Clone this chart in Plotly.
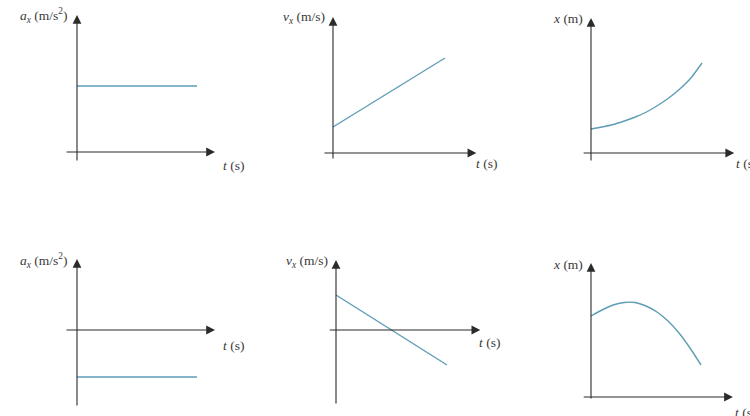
import plotly.graph_objects as go

# ---- data (arbitrary units: t in s, values in panel units) ----
t_line = [0, 10]
t_curve = [0, 1, 2, 3, 4, 5, 6, 7, 8, 9, 10]

ax_up = [6.6, 6.6]                          # constant positive acceleration
vx_up = [2.6, 9.5]                          # increasing velocity
x_up = [2.4, 2.6, 2.85, 3.2, 3.6, 4.1, 4.75, 5.5, 6.4, 7.5, 9.0]  # position, concave up

ax_down = [-4.7, -4.7]                      # constant negative acceleration
vx_down = [3.5, -3.5]                       # decreasing velocity
x_down = [8.1, 8.7, 9.2, 9.45, 9.45, 9.1, 8.5, 7.6, 6.4, 4.9, 3.2]  # position, concave down

y_labels = ["<i>a</i><sub><i>x</i></sub> (m/s<sup>2</sup>)",
            "<i>v</i><sub><i>x</i></sub> (m/s)",
            "<i>x</i> (m)"]
t_label = "<i>t</i> (s)"

W, H = 750, 416
LINE_COLOR = "#5e9db6"
AXIS_COLOR = "#2b2b2b"
FONT = dict(family="Liberation Serif, serif", size=13.5, color="#3a3a3a")

# panel geometry: origin pixel (ox, oy), px per unit sx, axis extents, t-label position
panels = [
    dict(t=t_line, v=ax_up, lab=y_labels[0], o=(77, 152), sx=12.0, ext=(-1.0, 11.5, -1.0, 13.7), tl=(12.0, -1.3)),
    dict(t=t_line, v=vx_up, lab=y_labels[1], o=(333, 153), sx=11.2, ext=(-0.9, 12.8, -0.7, 13.6), tl=(12.6, -1.0)),
    dict(t=t_curve, v=x_up, lab=y_labels[2], o=(591, 153), sx=11.1, ext=(-0.8, 12.9, -0.9, 13.5), tl=(12.9, -1.0)),
    dict(t=t_line, v=ax_down, lab=y_labels[0], o=(77, 330), sx=12.0, ext=(-1.0, 11.5, -7.7, 7.1), tl=(12.0, -1.5)),
    dict(t=t_line, v=vx_down, lab=y_labels[1], o=(336, 330), sx=11.1, ext=(-0.7, 13.0, -7.5, 7.0), tl=(12.7, -1.2)),
    dict(t=t_curve, v=x_down, lab=y_labels[2], o=(591, 397), sx=11.0, ext=(-0.8, 12.9, -0.3, 13.4), tl=(12.9, -1.5)),
]
SY = 10.0

fig = go.Figure()
layout = {}
annotations = []

for i, p in enumerate(panels, start=1):
    ox, oy = p["o"]
    sx = p["sx"]
    left, right = max(ox - 75, 0), min(ox + 180, W)
    top, bottom = max(oy - 150, 0), min(oy + 80, H)
    xr = [(left - ox) / sx, (right - ox) / sx]
    yr = [(oy - bottom) / SY, (oy - top) / SY]
    xname = "xaxis" if i == 1 else f"xaxis{i}"
    yname = "yaxis" if i == 1 else f"yaxis{i}"
    xref = "x" if i == 1 else f"x{i}"
    yref = "y" if i == 1 else f"y{i}"
    layout[xname] = dict(domain=[left / W, right / W], range=xr, visible=False,
                         anchor=yref, fixedrange=True)
    layout[yname] = dict(domain=[1 - bottom / H, 1 - top / H], range=yr, visible=False,
                         anchor=xref, fixedrange=True)

    fig.add_trace(go.Scatter(x=p["t"], y=p["v"], mode="lines",
                             line=dict(color=LINE_COLOR, width=1.4, shape="spline", smoothing=0.6),
                             xaxis=xref, yaxis=yref, showlegend=False, hoverinfo="skip"))

    t0, t1, v0, v1 = p["ext"]
    arrow = dict(xref=xref, yref=yref, axref=xref, ayref=yref, text="",
                 showarrow=True, arrowhead=2, arrowsize=1.6, arrowwidth=1.1,
                 arrowcolor=AXIS_COLOR)
    # horizontal (time) axis
    annotations.append(dict(arrow, x=t1, y=0, ax=t0, ay=0))
    # vertical axis
    annotations.append(dict(arrow, x=0, y=v1, ax=0, ay=v0))
    # axis titles
    annotations.append(dict(xref=xref, yref=yref, x=-0.55, y=v1 - 0.1, text=p["lab"],
                            showarrow=False, xanchor="right", yanchor="middle", font=FONT))
    annotations.append(dict(xref=xref, yref=yref, x=p["tl"][0], y=p["tl"][1], text=t_label,
                            showarrow=False, xanchor="left", yanchor="middle", font=FONT))

fig.update_layout(**layout)
fig.update_layout(width=W, height=H, margin=dict(l=0, r=0, t=0, b=0),
                  paper_bgcolor="white", plot_bgcolor="white",
                  annotations=annotations, showlegend=False)

fig.write_html("out.html", config={"displayModeBar": False})
